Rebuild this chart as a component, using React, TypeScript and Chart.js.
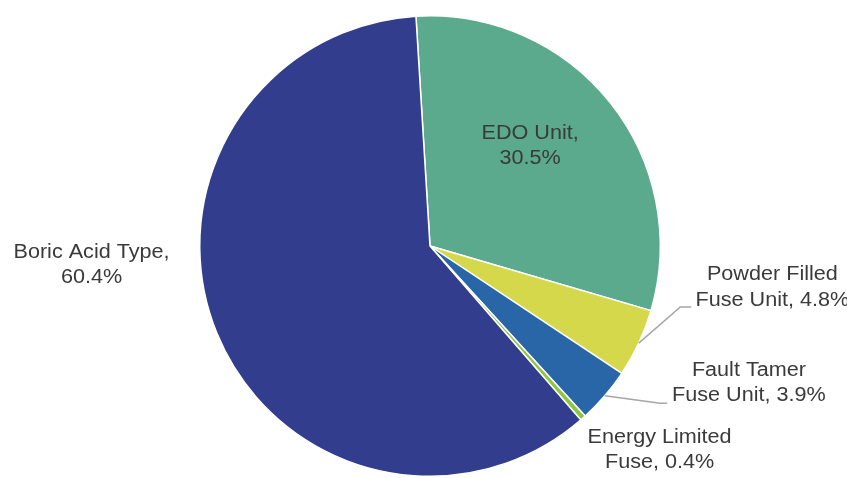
import React, { useEffect, useRef } from "react";
import { Chart, registerables } from "chart.js";

Chart.register(...registerables);

const categories = ["EDO Unit", "Powder Filled Fuse Unit", "Fault Tamer Fuse Unit", "Energy Limited Fuse", "Boric Acid Type"];
const shares = [30.5, 4.8, 3.9, 0.4, 60.4];
const labelLines = [
  ["EDO Unit,", "30.5%"],
  ["Powder Filled", "Fuse Unit, 4.8%"],
  ["Fault Tamer", "Fuse Unit, 3.9%"],
  ["Energy Limited", "Fuse, 0.4%"],
  ["Boric Acid Type,", "60.4%"],
];
const colors = ["#5BAA8D", "#D5D84B", "#2966A8", "#8DC63F", "#323D8D"];

// label placement relative to pie center, in units of radius
const labelPos = [
  { x: 0.435, y: -0.435, leader: null },
  { x: 1.487, y: 0.18, leader: { ex: 1.087, ey: 0.265, hx: 1.135 } },
  { x: 1.385, y: 0.595, leader: { ex: 1.0, ey: 0.683, hx: 1.03 } },
  { x: 0.997, y: 0.885, leader: null },
  { x: -1.47, y: 0.083, leader: null },
];

const labelPlugin = {
  id: "pieLabels",
  afterDatasetsDraw(chart: any) {
    const ctx = chart.ctx;
    const meta = chart.getDatasetMeta(0);
    meta.data.forEach((arc: any, i: number) => {
      const { x: cx, y: cy, outerRadius: R, startAngle, endAngle } = arc.getProps(
        ["x", "y", "outerRadius", "startAngle", "endAngle"],
        true
      );
      const p = labelPos[i];
      const lx = cx + p.x * R;
      const ly = cy + p.y * R;
      if (p.leader) {
        const mid = (startAngle + endAngle) / 2;
        ctx.save();
        ctx.strokeStyle = "#A6A6A6";
        ctx.lineWidth = 1.5;
        ctx.beginPath();
        ctx.moveTo(cx + Math.cos(mid) * R, cy + Math.sin(mid) * R);
        ctx.lineTo(cx + p.leader.ex * R, cy + p.leader.ey * R);
        ctx.lineTo(cx + p.leader.hx * R, cy + p.leader.ey * R);
        ctx.stroke();
        ctx.restore();
      }
      const lines = labelLines[i];
      const lh = 25.5;
      ctx.save();
      ctx.fillStyle = "#3A3A3A";
      ctx.font = "20px 'Liberation Sans', Arial, sans-serif";
      ctx.textAlign = "center";
      ctx.textBaseline = "middle";
      lines.forEach((t, k) => {
        const ty = ly + (k - (lines.length - 1) / 2) * lh;
        ctx.save();
        ctx.translate(lx, ty);
        ctx.scale(1.08, 1);
        ctx.fillText(t, 0, 0);
        ctx.restore();
      });
      ctx.restore();
    });
  },
};

export default function App() {
  const ref = useRef<HTMLCanvasElement | null>(null);
  useEffect(() => {
    if (!ref.current) return;
    const chart = new Chart(ref.current, {
      type: "pie",
      data: {
        labels: categories,
        datasets: [
          {
            data: shares,
            backgroundColor: colors,
            borderColor: "#FFFFFF",
            borderWidth: 1.5,
            hoverOffset: 0,
          },
        ],
      },
      options: {
        responsive: false,
        animation: false,
        rotation: -3.5,
        layout: { padding: { left: 199, right: 186, top: 15, bottom: 1 } },
        plugins: { legend: { display: false }, tooltip: { enabled: false } },
      },
      plugins: [labelPlugin],
    });
    return () => chart.destroy();
  }, []);
  return (
    <div style={{ position: "fixed", left: 0, top: 0, width: 847, height: 478, background: "#fff" }}>
      <canvas ref={ref} width={847} height={478} style={{ width: 847, height: 478 }} />
    </div>
  );
}
